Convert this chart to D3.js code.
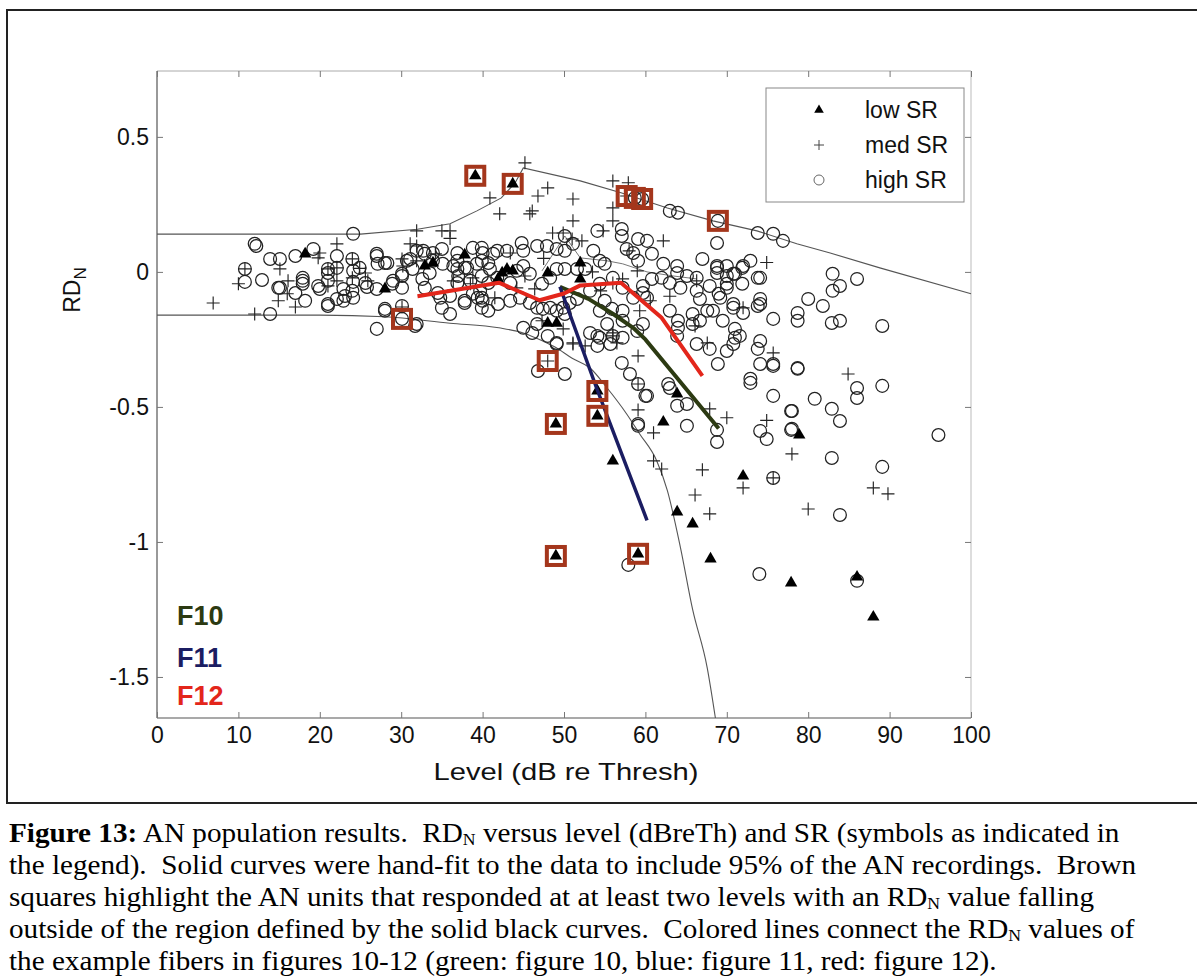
<!DOCTYPE html>
<html>
<head>
<meta charset="utf-8">
<script src="https://cdn.jsdelivr.net/npm/d3@7/dist/d3.min.js"></script>
<style>
  body { margin: 0; background: #fff; }
  svg { display: block; }
</style>
</head>
<body>
<svg id="chart" width="1197" height="976"></svg>
<script>
// --- DATA (level dB re thresh, RDN) ---
const lowSR = [
  [18.2,0.067],[28.0,-0.063],[32.9,0.022],[33.9,0.033],[37.8,0.063],[42.4,-0.004],[43.0,0.010],[43.7,0.004],
  [41.9,-0.026],[48.0,-0.004],[52.0,0.033],[52.0,-0.026],[48.0,-0.19],[49.1,-0.19],
  [39.1,0.356],[43.7,0.326],[54.1,-0.441],[54.1,-0.533],[49.0,-0.563],[49.0,-1.052],[59.1,-1.044],
  [56.0,-0.70],[63.9,-0.452],[62.2,-0.556],[63.9,-0.889],[65.8,-0.933],[68.0,-1.063],[72.0,-0.756],
  [78.9,-0.604],[77.9,-1.152],[86.0,-1.13],[88.0,-1.278]
];

const medSR = [
  [6.9,-0.115],[10.0,-0.044],[10.8,0.011],[12.0,-0.156],[15.1,0.011],[16.1,-0.033],[16.0,-0.081],[14.9,-0.107],
  [17.0,-0.130],[19.8,0.052],[20.0,0.070],[22.1,0.104],[22.1,0.015],[22.1,-0.033],[21.0,-0.052],[21.0,0.011],
  [24.0,0.048],[24.9,0.013],[25.6,-0.004],[24.0,-0.022],[25.9,-0.033],[30.1,-0.130],[31.1,0.104],[30.1,0.048],
  [30.2,0.022],[31.9,0.096],[31.9,0.152],[35.0,0.152],[36.0,0.152],[36.0,0.124],[36.4,-0.033],[38.8,-0.022],
  [40.9,0.274],[45.2,0.404],[46.8,0.281],[46.1,0.226],[45.8,0.215],[42.1,0.215],[51.1,0.270],[51.1,0.189],
  [48.6,0.144],[49.9,0.144],[51.0,0.122],[52.2,0.115],[31.9,0.041],[34.2,0.067],[38.5,-0.044],[41.5,-0.096],
  [44.2,-0.059],[45.2,-0.015],[43.4,0.070],[46.4,-0.063],[47.3,-0.181],[49.9,-0.211],[51.1,-0.263],[48.0,0.311],
  [56.0,0.337],[57.9,0.330],[57.7,0.281],[56.0,0.237],[56.0,0.189],[54.8,0.152],[74.9,0.035],[62.2,0.115],
  [58.0,0.078],[56.0,-0.041],[57.2,-0.026],[66.3,-0.033],[59.0,0.004],[59.3,-0.144],[60.6,-0.107],[66.1,-0.200],
  [72.0,-0.133],[67.6,-0.263],[56.5,-0.263],[56.0,-0.226],[52.6,-0.274],[75.7,-0.300],[84.9,-0.378],[74.9,-0.550],
  [78.0,-0.674],[75.7,-0.763],[88.0,-0.800],[89.8,-0.822],[80.0,-0.878],[72.0,-0.800],[67.0,-0.733],[66.1,-0.826],
  [67.9,-0.896],[61.0,-0.596],[61.0,-0.700],[62.0,-0.730],[59.1,-0.511],[59.1,-0.415],[67.9,-0.507],[70.0,-0.540],
  [48.0,-0.330],[51.1,-0.267],[56.0,-0.237],[59.1,-0.311],[53.5,0.0],[54.5,-0.07],[63.0,-0.09],[47.5,0.05]
];

const highSR = [
  [12.0,0.104],[12.2,0.096],[24.1,0.141],[19.2,0.085],[17.0,0.059],[13.9,0.048],[15.1,0.048],[10.8,0.011],
  [10.8,-0.037],[12.9,-0.030],[22.1,0.059],[22.1,0.015],[21.0,-0.004],[24.1,0.004],[24.9,0.015],[27.0,0.067],
  [27.1,0.030],[28.0,0.033],[24.1,-0.037],[17.9,-0.022],[17.9,-0.044],[15.1,-0.059],[17.0,-0.078],[19.8,-0.052],
  [20.0,-0.063],[18.2,-0.107],[21.0,-0.119],[22.1,-0.100],[23.1,-0.089],[22.9,-0.063],[24.1,-0.096],[13.9,-0.156],
  [25.8,-0.056],[27.0,-0.063],[28.9,-0.044],[30.1,-0.059],[30.1,-0.015],[30.7,0.041],[31.1,0.048],[27.0,-0.211],
  [28.0,-0.144],[30.1,-0.174],[31.7,-0.200],[24.0,0.048],[21.0,0.011],[21.0,-0.033],[14.9,-0.059],[17.9,-0.033],
  [21.0,-0.126],[22.9,-0.107],[24.0,-0.070],[25.6,-0.041],[28.3,0.033],[27.0,0.059],[29.0,-0.033],[30.1,-0.007],
  [31.9,0.078],[32.9,0.067],[33.9,0.041],[33.9,0.070],[35.0,0.085],[30.1,-0.126],[28.0,-0.137],[34.8,-0.096],
  [36.0,-0.156],[35.0,-0.133],[37.8,-0.107],[38.8,-0.081],[39.9,-0.096],[36.9,0.041],[37.8,0.015],[38.8,0.089],
  [39.9,0.089],[39.9,0.041],[40.7,0.033],[41.8,0.078],[36.9,0.011],[36.9,-0.041],[40.7,-0.041],[41.8,-0.022],
  [38.5,-0.033],[39.7,-0.070],[40.0,-0.107],[40.7,-0.144],[32.7,0.078],[36.9,0.070],[40.0,0.070],[41.3,0.067],
  [43.0,0.078],[44.8,0.107],[45.0,0.078],[46.7,0.096],[47.9,0.096],[49.1,0.085],[50.1,0.078],[51.1,0.104],
  [50.1,0.133],[31.4,0.011],[32.6,-0.026],[33.5,-0.004],[35.1,0.030],[36.4,0.022],[37.0,-0.015],[38.1,0.015],
  [39.3,0.030],[39.9,-0.015],[40.9,0.011],[43.4,-0.041],[44.2,0.004],[45.0,0.022],[45.8,-0.007],[47.3,-0.044],
  [48.3,-0.022],[49.1,0.011],[50.1,0.011],[51.6,0.011],[52.6,0.011],[32.9,-0.059],[34.5,-0.078],[36.0,-0.089],
  [37.8,-0.115],[39.4,-0.096],[39.9,-0.133],[41.9,-0.119],[43.4,-0.107],[44.6,-0.096],[45.8,-0.115],[46.7,-0.133],
  [47.4,-0.137],[48.3,-0.133],[49.1,-0.144],[49.9,-0.133],[50.7,-0.115],[51.6,-0.100],[31.9,-0.193],[45.0,-0.207],
  [46.7,-0.193],[46.1,-0.226],[49.1,-0.263],[50.1,-0.156],
  [63.0,0.226],[64.0,0.219],[68.9,0.189],[73.8,0.144],[68.8,0.107],[54.1,0.152],[57.1,0.159],[57.1,0.133],
  [59.1,0.122],[60.2,0.115],[60.8,0.067],[59.1,0.041],[53.6,0.078],[54.4,0.041],[55.0,0.030],[57.7,0.085],
  [58.5,0.070],[62.2,0.030],[63.9,0.022],[63.9,-0.004],[65.1,-0.015],[66.3,-0.022],[67.0,0.048],[68.8,0.022],
  [68.8,-0.004],[70.0,0.022],[71.0,-0.007],[72.0,0.022],[72.9,0.041],[74.1,-0.022],[62.0,-0.022],[63.0,-0.041],
  [64.3,-0.059],[59.7,-0.052],[59.7,-0.078],[60.2,-0.096],[60.8,-0.026],[56.0,-0.022],[57.2,-0.059],[58.5,-0.096],
  [54.4,-0.044],[53.2,-0.070],[55.0,-0.107],[55.9,-0.137],[57.2,-0.144],[54.4,-0.144],[66.3,-0.070],[66.7,-0.100],
  [67.6,-0.144],[67.9,-0.052],[69.2,-0.096],[70.0,-0.059],[70.8,-0.133],[71.9,-0.044],[74.1,-0.100],[74.1,-0.119],
  [63.0,-0.144],[64.0,-0.181],[64.0,-0.207],[63.9,-0.237],[65.8,-0.156],[65.8,-0.193],[66.7,-0.181],[68.3,-0.144],
  [69.5,-0.181],[71.0,-0.211],[71.6,-0.237],[70.8,-0.267],[74.1,-0.256],[66.3,-0.267],[53.2,-0.226],[54.4,-0.244],
  [55.7,-0.267],[57.2,-0.244],[59.0,-0.219],[59.7,-0.193],[57.2,-0.181],[55.3,-0.193],
  [58.7,0.274],[59.6,0.270],[75.7,0.141],[76.9,0.115],[83.0,-0.007],[86.0,-0.026],[83.0,-0.070],[83.9,-0.052],
  [73.8,-0.022],[71.9,0.015],[70.0,-0.015],[68.8,0.015],[70.8,-0.007],[70.0,-0.044],[69.0,-0.081],[70.8,-0.119],
  [72.0,-0.152],[73.8,-0.126],[75.7,-0.174],[78.7,-0.152],[80.0,-0.100],[81.8,-0.126],[83.9,-0.181],[89.1,-0.200],
  [78.7,-0.181],[82.9,-0.189],[78.7,-0.356],[75.7,-0.341],[73.8,-0.285],[74.1,-0.341],[72.9,-0.396],[72.9,-0.411],
  [68.9,-0.341],[67.9,-0.285],[71.0,-0.244],[70.0,-0.293],[86.0,-0.430],[89.1,-0.422],[75.7,-0.348],[78.7,-0.359],
  [86.0,-0.467],[75.7,-0.459],[80.8,-0.470],[82.9,-0.507],[83.9,-0.552],[78.0,-0.515],[74.1,-0.589],[74.9,-0.619],
  [78.0,-0.581],[96.0,-0.604],[82.9,-0.689],[75.7,-0.763],[89.1,-0.722],[83.9,-0.900],[74.0,-1.119],[57.9,-1.085],
  [86.0,-1.144],[59.1,-0.563],[65.1,-0.570],[68.8,-0.585],[68.8,-0.630],[63.0,-0.430],[60.0,-0.459],[63.9,-0.496],
  [65.1,-0.489],[59.1,-0.415],[46.8,-0.367],[50.1,-0.378],[48.0,-0.237],[49.1,-0.267],[54.1,-0.237],[54.1,-0.274],
  [56.0,-0.237],[57.1,-0.337],[58.1,-0.378],[60.2,-0.459],[59.1,-0.570],[62.8,-0.415],[77.9,-0.515],[77.9,-0.585]
];

// units highlighted with brown squares
const highlighted = [
  [39.1,0.356],[43.7,0.326],[57.7,0.281],[58.7,0.274],[59.6,0.270],[68.9,0.189],[30.1,-0.174],
  [48.0,-0.330],[54.1,-0.441],[54.1,-0.533],[49.0,-0.563],[49.0,-1.052],[59.1,-1.044]
];

// hand-fit 95% envelope curves
const upperBound = [
  [0,0.14],[25,0.14],[32,0.158],[36,0.178],[39.3,0.226],[42.3,0.274],[44,0.33],[45,0.385],[52,0.337],
  [57,0.293],[62.7,0.237],[68.3,0.189],[73.7,0.152],[78.6,0.104],[82.7,0.07],[88.8,0.015],[100,-0.081]
];
const lowerBound = [
  [0,-0.16],[20,-0.16],[28,-0.166],[36,-0.19],[42,-0.207],[45,-0.226],[47.4,-0.256],[49,-0.28],[51,-0.32],
  [53.2,-0.356],[55.3,-0.43],[57.7,-0.526],[59.3,-0.6],[61.4,-0.7],[62.7,-0.81],[64.3,-1.02],[65.8,-1.25],
  [67.6,-1.467],[68.6,-1.652]
];
// faint trace of one unit across levels
const thinTrace = [[47.3,0.004],[50.1,0.133],[52,0.052],[55.3,0.041],[57.2,0.03],[60.2,0.0],[63.4,-0.015],[66.3,-0.026]];

// example fibers
const f10 = [[49.5,-0.055],[53,-0.1],[56,-0.155],[58.5,-0.207],[60,-0.25],[69,-0.58]];
const f11 = [[49.5,-0.055],[54,-0.43],[60.2,-0.92]];
const f12 = [[32,-0.09],[42,-0.04],[47,-0.105],[50,-0.08],[52,-0.05],[57,-0.04],[62,-0.17],[67,-0.385]];

const xTicks = [0,10,20,30,40,50,60,70,80,90,100];
const yTicks = [0.5,0,-0.5,-1,-1.5];
const legendLabels = ['low SR','med SR','high SR'];
const fiberLabels = ['F10','F11','F12'];
const fiberColors = ['#2c3a12','#1b1d62','#e3261b'];

const captionLines = [
  [{t:'Figure 13:', b:true},{t:' AN population results.  RD'},{t:'N', sub:true},{t:' versus level (dBreTh) and SR (symbols as indicated in'}],
  [{t:'the legend).  Solid curves were hand-fit to the data to include 95% of the AN recordings.  Brown'}],
  [{t:'squares highlight the AN units that responded at at least two levels with an RD'},{t:'N', sub:true},{t:' value falling'}],
  [{t:'outside of the region defined by the solid black curves.  Colored lines connect the RD'},{t:'N', sub:true},{t:' values of'}],
  [{t:'the example fibers in figures 10-12 (green: figure 10, blue: figure 11, red: figure 12).'}]
];

// --- LAYOUT ---
const svg = d3.select('#chart');
const plot = { left: 157, right: 971, top: 71, bottom: 718 };
const sans = '"Liberation Sans", Arial, Helvetica, sans-serif';
const serif = '"Liberation Serif", "Times New Roman", serif';

const x = d3.scaleLinear().domain([0, 100]).range([plot.left, plot.right]);
const y = d3.scaleLinear().domain([-1.652, 0.744]).range([plot.bottom, plot.top]);

// outer figure frame + caption divider
svg.append('rect')
  .attr('x', 7).attr('y', 10).attr('width', 1210).attr('height', 793)
  .attr('fill', 'none').attr('stroke', '#222').attr('stroke-width', 2);

// axes box
svg.append('line').attr('x1', plot.left).attr('x2', plot.right).attr('y1', plot.top).attr('y2', plot.top)
  .attr('stroke', '#aaa').attr('stroke-width', 1);
svg.append('line').attr('x1', plot.right).attr('x2', plot.right).attr('y1', plot.top).attr('y2', plot.bottom)
  .attr('stroke', '#bbb').attr('stroke-width', 1);
svg.append('line').attr('x1', plot.left).attr('x2', plot.left).attr('y1', plot.top).attr('y2', plot.bottom)
  .attr('stroke', '#555').attr('stroke-width', 1.2);
svg.append('line').attr('x1', plot.left).attr('x2', plot.right).attr('y1', plot.bottom).attr('y2', plot.bottom)
  .attr('stroke', '#555').attr('stroke-width', 1.2);

const fmt = d => String(d);

const gx = svg.append('g').attr('transform', `translate(0,${plot.bottom})`)
  .call(d3.axisBottom(x).tickValues(xTicks).tickFormat(fmt).tickSize(-6).tickSizeOuter(0).tickPadding(9));
const gy = svg.append('g').attr('transform', `translate(${plot.left},0)`)
  .call(d3.axisLeft(y).tickValues(yTicks).tickFormat(fmt).tickSize(-6).tickSizeOuter(0).tickPadding(8));
const gxt = svg.append('g').attr('transform', `translate(0,${plot.top})`)
  .call(d3.axisTop(x).tickValues(xTicks).tickFormat('').tickSize(-6).tickSizeOuter(0));
const gyr = svg.append('g').attr('transform', `translate(${plot.right},0)`)
  .call(d3.axisRight(y).tickValues(yTicks).tickFormat('').tickSize(-6).tickSizeOuter(0));

[gx, gy, gxt, gyr].forEach(g => {
  g.select('.domain').remove();
  g.selectAll('.tick line').attr('stroke', '#777');
  g.selectAll('.tick text').attr('fill', '#111').style('font-size', '23px').style('font-family', sans);
});

// axis labels
const xl = svg.append('text')
  .attr('text-anchor', 'middle')
  .style('font-family', sans).style('font-size', '23px').attr('fill', '#111')
  .text('Level (dB re Thresh)');
const xlw = xl.node().getComputedTextLength();
xl.attr('transform', `translate(566,780) scale(${265 / xlw},1)`);

const yl = svg.append('text')
  .attr('transform', 'translate(80,290) rotate(-90)')
  .attr('text-anchor', 'middle')
  .style('font-family', sans).style('font-size', '23px').attr('fill', '#111');
yl.append('tspan').text('RD');
yl.append('tspan').attr('dy', 6).style('font-size', '17px').text('N');

// --- MARKS ---
const marks = svg.append('g');

// envelope curves
const line = d3.line().x(d => x(d[0])).y(d => y(d[1]));
marks.append('path').datum(upperBound)
  .attr('d', line.curve(d3.curveLinear))
  .attr('fill', 'none').attr('stroke', '#555').attr('stroke-width', 1.1);
marks.append('path').datum(lowerBound)
  .attr('d', line.curve(d3.curveMonotoneX))
  .attr('fill', 'none').attr('stroke', '#555').attr('stroke-width', 1.1);
marks.append('path').datum(thinTrace)
  .attr('d', line.curve(d3.curveLinear))
  .attr('fill', 'none').attr('stroke', '#666').attr('stroke-width', 0.9);

// high SR circles
marks.append('g').selectAll('circle').data(highSR).join('circle')
  .attr('cx', d => x(d[0])).attr('cy', d => y(d[1])).attr('r', 6.4)
  .attr('fill', 'none').attr('stroke', '#222').attr('stroke-width', 1.25);

// med SR crosses
marks.append('g').selectAll('path').data(medSR).join('path')
  .attr('transform', d => `translate(${x(d[0])},${y(d[1])})`)
  .attr('d', 'M-6.5,0H6.5M0,-6.5V6.5')
  .attr('stroke', '#222').attr('stroke-width', 1.15).attr('fill', 'none');

// low SR triangles
const tri = d3.symbol(d3.symbolTriangle, 66);
marks.append('g').selectAll('path').data(lowSR).join('path')
  .attr('transform', d => `translate(${x(d[0])},${y(d[1])})`)
  .attr('d', tri).attr('fill', '#000');

// example fibers
[f10, f11, f12].forEach((f, i) => {
  marks.append('path').datum(f)
    .attr('d', line.curve(d3.curveLinear))
    .attr('fill', 'none')
    .attr('stroke', fiberColors[i])
    .attr('stroke-width', i === 1 ? 3.5 : 4)
    .attr('stroke-linejoin', 'round');
});

// highlighted units
marks.append('g').selectAll('rect').data(highlighted).join('rect')
  .attr('x', d => x(d[0]) - 9).attr('y', d => y(d[1]) - 9)
  .attr('width', 18).attr('height', 18)
  .attr('fill', 'none').attr('stroke', '#a4361c').attr('stroke-width', 4);

// --- LEGEND ---
const lg = svg.append('g');
lg.append('rect').attr('x', 766).attr('y', 88).attr('width', 198).attr('height', 114)
  .attr('fill', '#fff').attr('stroke', '#888').attr('stroke-width', 1);
legendLabels.forEach((lab, i) => {
  const cy = 110 + i * 35;
  if (i === 0) {
    lg.append('path').attr('transform', `translate(819,${cy})`).attr('d', d3.symbol(d3.symbolTriangle, 40)).attr('fill', '#000');
  } else if (i === 1) {
    lg.append('path').attr('transform', `translate(819,${cy})`).attr('d', 'M-5,0H5M0,-5V5').attr('stroke', '#444').attr('stroke-width', 1);
  } else {
    lg.append('circle').attr('cx', 819).attr('cy', cy).attr('r', 5).attr('fill', 'none').attr('stroke', '#666');
  }
  lg.append('text').attr('x', 865).attr('y', cy).attr('dy', '0.35em')
    .style('font-family', sans).style('font-size', '23px').attr('fill', '#111').text(lab);
});

// fiber labels
fiberLabels.forEach((lab, i) => {
  svg.append('text').attr('x', 177).attr('y', [625, 667, 705][i])
    .style('font-family', sans).style('font-size', '27px').style('font-weight', 'bold')
    .attr('fill', fiberColors[i]).text(lab);
});

// --- CAPTION ---
const capG = svg.append('g');
const capY = i => 842 + i * 32;
const capNodes = captionLines.map((segs, i) => {
  const t = capG.append('text')
    .attr('x', 0).attr('y', 0)
    .attr('transform', `translate(9,${capY(i)})`)
    .style('font-family', serif).style('font-size', '28px').style('white-space', 'pre').attr('fill', '#000');
  let afterSub = false;
  segs.forEach(s => {
    const sp = t.append('tspan').text(s.t);
    if (s.b) sp.style('font-weight', 'bold');
    if (s.sub) {
      sp.attr('dy', 3).style('font-size', '17px');
      afterSub = true;
    } else if (afterSub) {
      sp.attr('dy', -3);
      afterSub = false;
    }
  });
  return t;
});
// fit first line width to the reference (condensed typeface)
const w0 = capNodes[0].node().getComputedTextLength();
const sx = 1111 / w0;
capNodes.forEach((t, i) => t.attr('transform', `translate(9,${capY(i)}) scale(${sx},1)`));
</script>
</body>
</html>
